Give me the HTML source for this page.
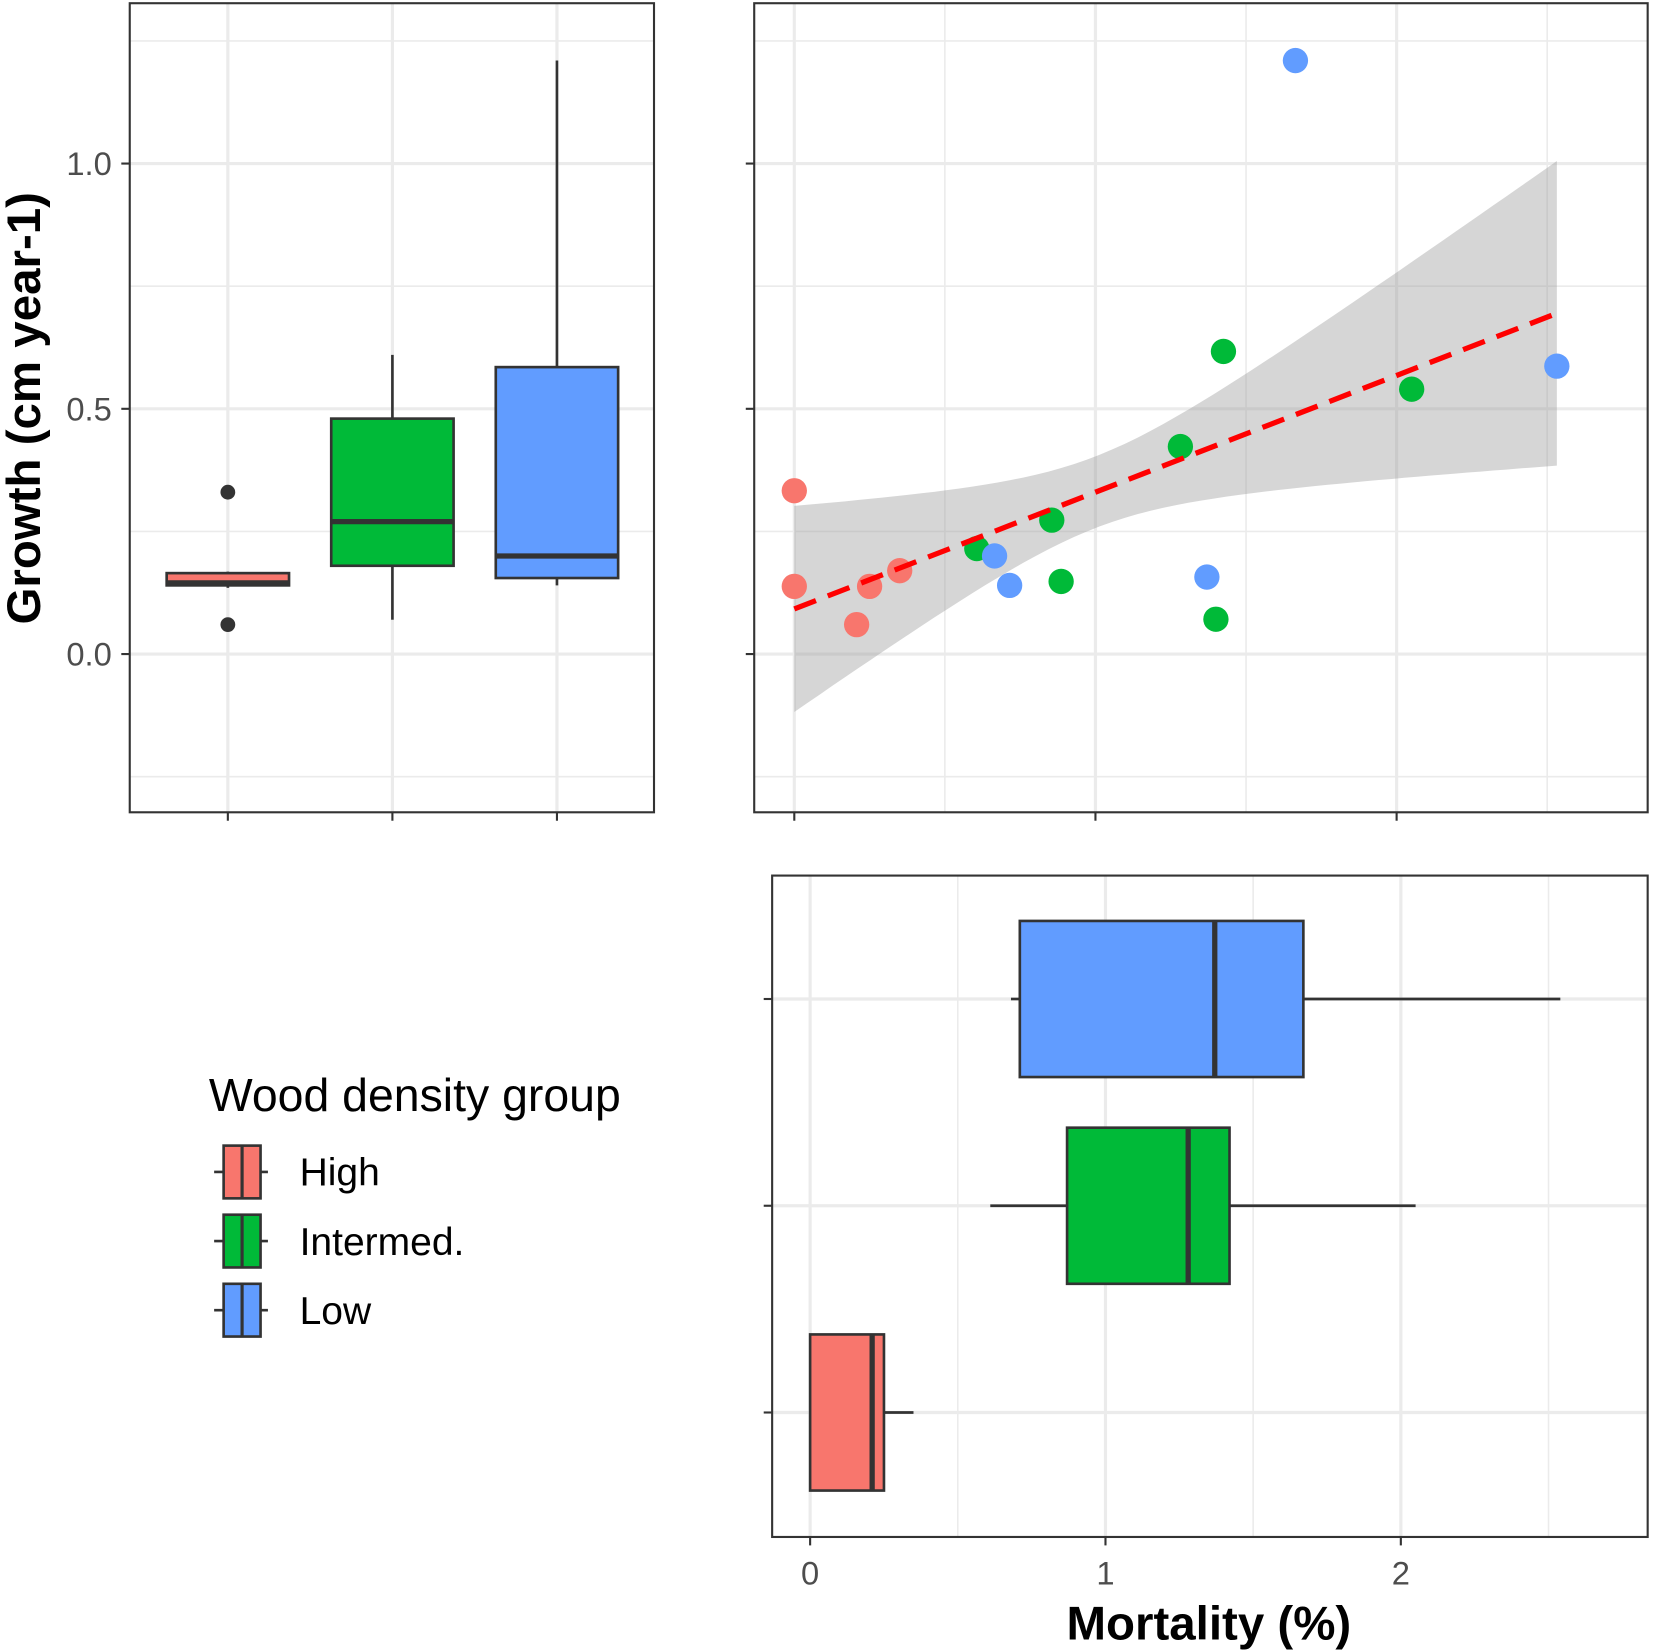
<!DOCTYPE html>
<html><head><meta charset="utf-8"><style>
html,body{margin:0;padding:0;background:#fff}
svg{display:block}
text{font-family:"Liberation Sans",sans-serif}
</style></head><body>
<svg id="chart" width="1654" height="1652" viewBox="0 0 1568 1566" xmlns="http://www.w3.org/2000/svg">
<rect x="0" y="0" width="1568" height="1566" fill="#fff"/>
</svg>
<script>
const groups = ["High", "Intermed.", "Low"];
const colors = ["#F8766D", "#00BA38", "#619CFF"];
// growth boxplots: [lowWhisker, q1, median, q3, highWhisker]
const growthBox = [[0.135, 0.14, 0.145, 0.165, 0.168], [0.07, 0.18, 0.27, 0.48, 0.61], [0.14, 0.155, 0.20, 0.585, 1.21]];
const growthOutliers = [[0.33, 0.06], [], []];
// mortality boxplots
const mortBox = [[0, 0, 0.21, 0.25, 0.35], [0.61, 0.87, 1.28, 1.42, 2.05], [0.68, 0.71, 1.37, 1.67, 2.54]];
// scatter points
const ptMort = [0, 0, 0.25, 0.35, 0.207, 0.606, 0.855, 0.886, 1.282, 1.425, 1.40, 2.05, 0.665, 0.715, 1.37, 1.664, 2.532];
const ptGrowth = [0.333, 0.138, 0.138, 0.17, 0.06, 0.215, 0.273, 0.148, 0.423, 0.617, 0.071, 0.54, 0.20, 0.14, 0.157, 1.21, 0.587];
const ptGroup = [0, 0, 0, 0, 0, 1, 1, 1, 1, 1, 1, 1, 2, 2, 2, 2, 2];
// regression fit
const fitIntercept = 0.092, fitSlope = 0.238, fitXmin = 0, fitXmax = 2.532;
const ciH0 = 0.073, ciK = 0.0388, ciXm = 1.0;
const yTicks = [0.0, 0.5, 1.0];
const yTickLabels = ["0.0", "0.5", "1.0"];
const xTicks = [0, 1, 2];
const xTickLabels = ["0", "1", "2"];

const NS = "http://www.w3.org/2000/svg";
const svg = document.getElementById("chart");
function mk(tag, attrs, parent, txt) {
  const e = document.createElementNS(NS, tag);
  for (const k in attrs) e.setAttribute(k, attrs[k]);
  if (txt !== undefined) e.textContent = txt;
  (parent || svg).appendChild(e);
  return e;
}
const yG = v => 620 - v * 465;
const xTR = v => 753 + v * 285.5;
const xB = v => 768 + v * 280;
const catX = [216, 372, 528];
const catY = [1339, 1143, 947];
const GRID = "#ebebeb";

// ---- top-left panel
const p1 = mk("g", {});  
[-0.25, 0.25, 0.75, 1.25].forEach(v => mk("line", {x1:123, x2:620, y1:yG(v), y2:yG(v), stroke:GRID, "stroke-width":1.5}, p1));
yTicks.forEach(v => mk("line", {x1:123, x2:620, y1:yG(v), y2:yG(v), stroke:GRID, "stroke-width":3}, p1));
catX.forEach(x => mk("line", {x1:x, x2:x, y1:3, y2:770, stroke:GRID, "stroke-width":3}, p1));
groups.forEach((g, i) => {
  const b = growthBox[i], x = catX[i], hw = 58;
  const grp = mk("g", {}, p1);
  
  
  mk("line", {x1:x, x2:x, y1:yG(b[0]), y2:yG(b[1]), stroke:"#333", "stroke-width":2.5}, grp);
  mk("line", {x1:x, x2:x, y1:yG(b[3]), y2:yG(b[4]), stroke:"#333", "stroke-width":2.5}, grp);
  mk("rect", {x:x-hw, y:yG(b[3]), width:2*hw, height:yG(b[1])-yG(b[3]), fill:colors[i], stroke:"#333", "stroke-width":2.5}, grp);
  mk("line", {x1:x-hw, x2:x+hw, y1:yG(b[2]), y2:yG(b[2]), stroke:"#333", "stroke-width":5}, grp);
  growthOutliers[i].forEach(o => {
    const c = mk("circle", {cx:x, cy:yG(o), r:7, fill:"#333"}, grp);
    
    
  });
});
mk("rect", {x:123, y:3, width:497, height:767, fill:"none", stroke:"#333", "stroke-width":2}, p1);
yTicks.forEach((v, i) => {
  mk("line", {x1:115, x2:123, y1:yG(v), y2:yG(v), stroke:"#333", "stroke-width":2}, p1);
  const t = mk("text", {x:106, y:yG(v)+11, "text-anchor":"end", "font-size":31, fill:"#4d4d4d"}, p1, yTickLabels[i]);
  
  
});
catX.forEach(x => mk("line", {x1:x, x2:x, y1:770, y2:778, stroke:"#333", "stroke-width":2}, p1));
const yt = mk("text", {x:0, y:0, transform:"translate(38,387) rotate(-90)", "text-anchor":"middle", "font-size":45, "font-weight":"bold", fill:"#000"}, svg, "Growth (cm year-1)");



// ---- top-right panel
const p2 = mk("g", {});  
[-0.25, 0.25, 0.75, 1.25].forEach(v => mk("line", {x1:715, x2:1562, y1:yG(v), y2:yG(v), stroke:GRID, "stroke-width":1.5}, p2));
yTicks.forEach(v => mk("line", {x1:715, x2:1562, y1:yG(v), y2:yG(v), stroke:GRID, "stroke-width":3}, p2));
[0.5, 1.5, 2.5].forEach(v => mk("line", {x1:xTR(v), x2:xTR(v), y1:3, y2:770, stroke:GRID, "stroke-width":1.5}, p2));
xTicks.forEach(v => mk("line", {x1:xTR(v), x2:xTR(v), y1:3, y2:770, stroke:GRID, "stroke-width":3}, p2));
let up = [], lo = [];
for (let k = 0; k <= 60; k++) {
  const xv = fitXmin + (fitXmax - fitXmin) * k / 60;
  const f = fitIntercept + fitSlope * xv;
  const h = Math.sqrt(ciH0*ciH0 + ciK*(xv-ciXm)*(xv-ciXm));
  up.push(xTR(xv).toFixed(1) + "," + yG(f+h).toFixed(1));
  lo.unshift(xTR(xv).toFixed(1) + "," + yG(f-h).toFixed(1));
}
const band = mk("polygon", {points: up.concat(lo).join(" "), fill:"#999", "fill-opacity":0.4}, p2);


ptMort.forEach((m, i) => {
  const c = mk("circle", {cx:xTR(m), cy:yG(ptGrowth[i]), r:12, fill:colors[ptGroup[i]]}, p2);
  
  
});
const fl = mk("line", {x1:xTR(fitXmin), y1:yG(fitIntercept+fitSlope*fitXmin), x2:xTR(fitXmax), y2:yG(fitIntercept+fitSlope*fitXmax), stroke:"#ff0000", "stroke-width":5, "stroke-dasharray":"22,12"}, p2);


mk("rect", {x:715, y:3, width:847, height:767, fill:"none", stroke:"#333", "stroke-width":2}, p2);
yTicks.forEach(v => mk("line", {x1:707, x2:715, y1:yG(v), y2:yG(v), stroke:"#333", "stroke-width":2}, p2));
xTicks.forEach(v => mk("line", {x1:xTR(v), x2:xTR(v), y1:770, y2:778, stroke:"#333", "stroke-width":2}, p2));

// ---- bottom panel
const p3 = mk("g", {});  
[0.5, 1.5, 2.5].forEach(v => mk("line", {x1:xB(v), x2:xB(v), y1:830, y2:1457, stroke:GRID, "stroke-width":1.5}, p3));
xTicks.forEach(v => mk("line", {x1:xB(v), x2:xB(v), y1:830, y2:1457, stroke:GRID, "stroke-width":3}, p3));
catY.forEach(y => mk("line", {x1:732, x2:1562, y1:y, y2:y, stroke:GRID, "stroke-width":3}, p3));
groups.forEach((g, i) => {
  const b = mortBox[i], y = catY[i], hh = 74;
  const grp = mk("g", {}, p3);
  
  
  mk("line", {x1:xB(b[0]), x2:xB(b[1]), y1:y, y2:y, stroke:"#333", "stroke-width":2.5}, grp);
  mk("line", {x1:xB(b[3]), x2:xB(b[4]), y1:y, y2:y, stroke:"#333", "stroke-width":2.5}, grp);
  mk("rect", {x:xB(b[1]), y:y-hh, width:xB(b[3])-xB(b[1]), height:2*hh, fill:colors[i], stroke:"#333", "stroke-width":2.5}, grp);
  mk("line", {x1:xB(b[2]), x2:xB(b[2]), y1:y-hh, y2:y+hh, stroke:"#333", "stroke-width":5}, grp);
});
mk("rect", {x:732, y:830, width:830, height:627, fill:"none", stroke:"#333", "stroke-width":2}, p3);
catY.forEach(y => mk("line", {x1:724, x2:732, y1:y, y2:y, stroke:"#333", "stroke-width":2}, p3));
xTicks.forEach((v, i) => {
  mk("line", {x1:xB(v), x2:xB(v), y1:1457, y2:1465, stroke:"#333", "stroke-width":2}, p3);
  const t = mk("text", {x:xB(v), y:1502, "text-anchor":"middle", "font-size":31, fill:"#4d4d4d"}, p3, xTickLabels[i]);
  
  
});
const xt = mk("text", {x:1146, y:1554, "text-anchor":"middle", "font-size":45, "font-weight":"bold", fill:"#000"}, svg, "Mortality (%)");



// ---- legend
const lg = mk("g", {});  
const lt = mk("text", {x:198, y:1053, "font-size":44, fill:"#000"}, lg, "Wood density group");


groups.forEach((g, i) => {
  const cy = 1111 + i * 65.5;
  const e = mk("g", {}, lg);
  
  
  mk("line", {x1:203, x2:254, y1:cy, y2:cy, stroke:"#333", "stroke-width":2.5}, e);
  mk("rect", {x:212, y:cy-25, width:35, height:50, fill:colors[i], stroke:"#333", "stroke-width":2.5}, e);
  mk("line", {x1:229.5, x2:229.5, y1:cy-25, y2:cy+25, stroke:"#333", "stroke-width":3}, e);
  mk("text", {x:284, y:cy+13, "font-size":37, fill:"#000"}, e, g);
});
</script>
</body></html>
